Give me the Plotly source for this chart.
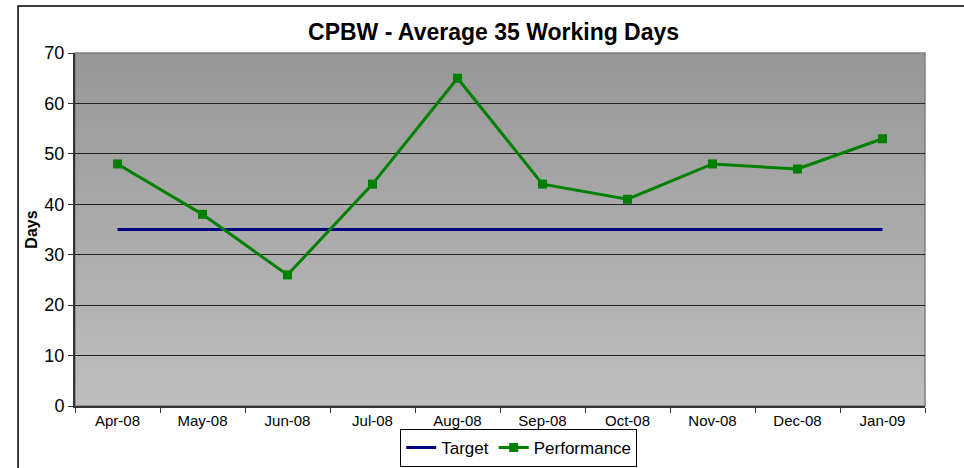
import plotly.graph_objects as go

# Data
months = ['Apr-08', 'May-08', 'Jun-08', 'Jul-08', 'Aug-08',
          'Sep-08', 'Oct-08', 'Nov-08', 'Dec-08', 'Jan-09']
target = [35, 35, 35, 35, 35, 35, 35, 35, 35, 35]
performance = [48, 38, 26, 44, 65, 44, 41, 48, 47, 53]

fig = go.Figure()
fig.add_trace(go.Scatter(
    x=months, y=target, name='Target', mode='lines',
    line=dict(color='#000080', width=3)
))
fig.add_trace(go.Scatter(
    x=months, y=performance, name='Performance', mode='lines+markers',
    line=dict(color='#008000', width=3),
    marker=dict(symbol='square', size=9, color='#008000')
))

# gradient background for the plot area: overlapping strips, bottom to top
shapes = []
n = 60
top_rgb = (151, 151, 151)
bot_rgb = (190, 190, 190)
for i in range(n):
    t = i / (n - 1)
    r, g, b = [int(round(bot_rgb[k] + (top_rgb[k] - bot_rgb[k]) * t)) for k in range(3)]
    shapes.append(dict(
        type='rect', xref='x domain', yref='y domain',
        x0=0, x1=1, y0=i / n, y1=1,
        fillcolor=f'rgb({r},{g},{b})', line=dict(width=0), layer='below'
    ))
# plot area outline (grey) and outer chart border
shapes.append(dict(type='rect', xref='paper', yref='paper', x0=0, x1=1, y0=0, y1=1,
                   line=dict(color='#808080', width=1.5), layer='below'))
shapes.append(dict(type='rect', xref='paper', yref='paper', x0=-0.067, x1=1.2, y0=-0.3, y1=1.133,
                   line=dict(color='black', width=1.5), fillcolor='rgba(0,0,0,0)', layer='below'))

fig.update_layout(
    width=964, height=468,
    margin=dict(l=75, r=39, t=53, b=62, autoexpand=False),
    paper_bgcolor='white',
    plot_bgcolor='rgba(0,0,0,0)',
    font=dict(family='Liberation Sans, Arial, sans-serif', color='black'),
    title=dict(text='<b>CPBW - Average 35 Working Days</b>', x=0.512, xanchor='center',
               y=0.932, yanchor='middle', font=dict(size=23)),
    shapes=shapes,
    showlegend=True,
    legend=dict(orientation='h', x=0.522, xanchor='center', y=-0.173, yanchor='bottom',
                bordercolor='black', borderwidth=1, bgcolor='white',
                font=dict(size=17), itemwidth=30, tracegroupgap=0),
    xaxis=dict(
        type='category', tickson='boundaries', ticks='outside', ticklen=5,
        tickcolor='#333333', showline=True, linecolor='#333333', linewidth=2,
        showgrid=False, tickfont=dict(size=15), range=[-0.5, 9.5], automargin=False
    ),
    yaxis=dict(
        range=[0, 70], dtick=10, ticks='outside', ticklen=5, tickcolor='#333333',
        showline=True, linecolor='#333333', linewidth=2,
        showgrid=True, gridcolor='#222222', gridwidth=1, zeroline=False,
        tickfont=dict(size=18), automargin=False,
        title=dict(text='<b>Days</b>', font=dict(size=16), standoff=3)
    ),
)

# remove the default page margin so the figure sits at the window's corner
fig.write_html('out.html', config={'displayModeBar': False},
               post_script="document.body.style.margin='0';")
